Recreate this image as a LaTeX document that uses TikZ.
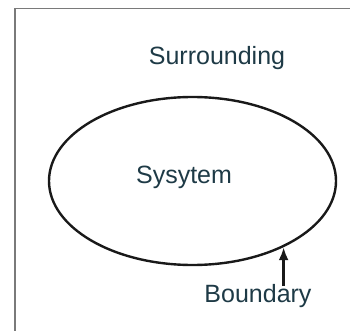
\documentclass[tikz,border=0pt]{standalone}
\usepackage{fontspec}
\setmainfont{Liberation Sans}
\usepackage{tikz}
\usetikzlibrary{positioning, arrows.meta, shapes.geometric}
\definecolor{inkteal}{HTML}{1E3A46}
\definecolor{framegray}{HTML}{7A7A7A}

\begin{document}
\begin{tikzpicture}[
  x=1pt, y=-1pt,
  font=\fontsize{25}{28}\selectfont,
  lbl/.style={text=inkteal, inner sep=0pt},
  sysbox/.style={draw=black!90, ellipse, line width=2.4pt,
    minimum width=287pt, minimum height=168pt, inner sep=0pt},
  arrow/.style={-{Latex[length=13pt, width=10pt]}, line width=2.6pt, draw=black!90},
]
  \useasboundingbox (0,0) rectangle (350,331);
  \draw[framegray, line width=1.4pt] (15,331) -- (15,8.5) -- (350,8.5);

  \node[sysbox] (sys) at (192.5,181) {};
  \node[lbl] (systxt) at (184,177) {Sysytem};
  \node[lbl] (surr) at (217,58) {Surrounding};
  \node[lbl] (bnd) at (258,296) {Boundary};

  \coordinate (hit) at (sys.-36);
  \draw[arrow] ([yshift=-2pt]hit |- bnd.north) -- (hit);
\end{tikzpicture}
\end{document}
